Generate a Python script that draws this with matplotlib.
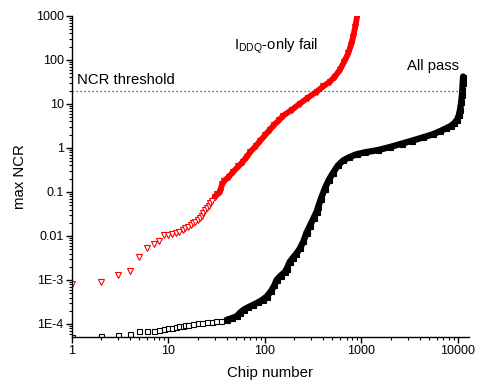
import numpy as np
import matplotlib
matplotlib.use("Agg")
import matplotlib.pyplot as plt
from matplotlib.ticker import FixedLocator, FixedFormatter, LogLocator, NullFormatter

plt.rcParams['font.family'] = ['Liberation Sans', 'DejaVu Sans']
plt.rcParams['mathtext.fontset'] = 'custom'
plt.rcParams['mathtext.rm'] = 'Liberation Sans'
plt.rcParams['mathtext.it'] = 'Liberation Sans:italic'

# IDDQ-only fail chips, sorted by max NCR
fail_chip = [1, 2, 3, 4, 5, 6, 7, 8, 9, 10, 11, 12, 13, 14, 15, 16, 17, 18, 19,
             20, 21, 22, 23, 24, 25, 26, 27, 28, 30, 32, 34, 36, 38, 42, 47, 53,
             59, 65, 70, 80, 89, 100, 112, 125, 140, 154, 190, 230, 280, 343,
             400, 470, 530, 595, 660, 730, 780, 820, 860, 898]
fail_ncr = [8.2e-4, 9.2e-4, 1.3e-3, 1.6e-3, 3.3e-3, 5.4e-3, 6.5e-3, 7.8e-3,
            0.0104, 0.0106, 0.011, 0.0115, 0.0125, 0.0135, 0.015, 0.016, 0.018,
            0.020, 0.021, 0.023, 0.026, 0.029, 0.033, 0.038, 0.043, 0.048,
            0.055, 0.064, 0.075, 0.088, 0.10, 0.15, 0.18, 0.22, 0.29, 0.38,
            0.49, 0.64, 0.80, 1.1, 1.45, 1.95, 2.6, 3.4, 4.3, 5.4, 7.4, 10.2,
            14, 19, 25, 32, 42, 59, 90, 142, 220, 340, 550, 950]

# chips passing every test
pass_chip = [1, 2, 3, 4, 5, 6, 7, 8, 9, 10, 11, 12, 13, 14, 15, 16, 18, 20, 22,
             25, 28, 31, 35, 40, 45, 51, 55, 60, 67, 75, 85, 95, 104, 115, 125,
             132, 145, 160, 168, 181, 195, 212, 230, 250, 270, 292, 320, 344,
             356, 380, 417, 460, 506, 570, 646, 750, 890, 1100, 1500, 1970,
             2600, 3300, 4370, 5500, 6500, 7550, 8500, 9200, 9800, 10200,
             10500, 10800, 11000, 11100, 11200, 11300]
pass_ncr = [5.0e-5, 5.4e-5, 5.6e-5, 5.9e-5, 6.9e-5, 7.0e-5, 7.1e-5, 7.3e-5,
            7.5e-5, 8.0e-5, 8.3e-5, 8.5e-5, 8.8e-5, 9.0e-5, 9.3e-5, 9.5e-5,
            9.8e-5, 1.03e-4, 1.07e-4, 1.1e-4, 1.12e-4, 1.14e-4, 1.18e-4,
            1.24e-4, 1.35e-4, 1.5e-4, 1.8e-4, 2.1e-4, 2.4e-4, 2.7e-4, 3.1e-4,
            3.6e-4, 4.2e-4, 5.5e-4, 7.5e-4, 1.0e-3, 1.25e-3, 1.5e-3, 1.8e-3,
            2.6e-3, 3.2e-3, 4.0e-3, 5.2e-3, 7.5e-3, 0.012, 0.017, 0.026, 0.036,
            0.046, 0.07, 0.12, 0.19, 0.27, 0.40, 0.52, 0.62, 0.72, 0.80, 0.90,
            1.05, 1.25, 1.45, 1.75, 2.05, 2.4, 2.8, 3.2, 3.7, 4.4, 5.5, 7.3, 11,
            16, 21, 30, 42]

threshold = 20
ytick_vals = [1e-4, 1e-3, 1e-2, 1e-1, 1, 10, 100, 1000]
ytick_labels = ['1E-4', '1E-3', '0.01', '0.1', '1', '10', '100', '1000']
xtick_vals = [1, 10, 100, 1000, 10000]
xtick_labels = ['1', '10', '100', '1000', '10000']

fail_chip = np.array(fail_chip)
fail_ncr = np.array(fail_ncr)
pass_chip = np.array(pass_chip)
pass_ncr = np.array(pass_ncr)

fig = plt.figure(figsize=(4.78, 3.86), dpi=100)
ax = fig.add_axes([0.1506, 0.127, 0.8305, 0.8316])

# sparse chips show as separate open markers, the rest overlap into a band
dense_f = fail_chip >= 30
dense_p = pass_chip >= 40

ax.plot(fail_chip[dense_f], fail_ncr[dense_f], 'v-', color='red', lw=4.2,
        ms=4.6, mew=0.8, solid_capstyle='round')
ax.plot(pass_chip[dense_p], pass_ncr[dense_p], 's-', color='black', lw=4.6,
        ms=3.6, mew=0.8, solid_capstyle='round')

ax.plot(fail_chip[~dense_f], fail_ncr[~dense_f], 'v', ms=4.6, mfc='white',
        mec='red', mew=0.8, linestyle='none')
ax.plot(pass_chip[~dense_p], pass_ncr[~dense_p], 's', ms=3.6, mfc='white',
        mec='black', mew=0.8, linestyle='none')

ax.hlines(threshold, 1, 11800, colors='#333333', linestyles=(0, (1, 2.2)),
          lw=0.9)

ax.set_xscale('log')
ax.set_yscale('log')
ax.set_xlim(1, 13000)
ax.set_ylim(5.07e-5, 1000)

ax.yaxis.set_major_locator(FixedLocator(ytick_vals))
ax.yaxis.set_major_formatter(FixedFormatter(ytick_labels))
ax.yaxis.set_minor_locator(LogLocator(base=10, subs=np.arange(2, 10), numticks=20))
ax.yaxis.set_minor_formatter(NullFormatter())
ax.xaxis.set_major_locator(FixedLocator(xtick_vals))
ax.xaxis.set_major_formatter(FixedFormatter(xtick_labels))
ax.xaxis.set_minor_locator(LogLocator(base=10, subs=np.arange(2, 10), numticks=20))
ax.xaxis.set_minor_formatter(NullFormatter())

for s in ['top', 'right']:
    ax.spines[s].set_visible(False)
for s in ['left', 'bottom']:
    ax.spines[s].set_linewidth(1.0)
ax.tick_params(which='major', direction='out', length=4, width=1.0,
               labelsize=9, pad=2)
ax.tick_params(which='minor', direction='out', length=2.2, width=0.8)

ax.set_xlabel('Chip number', fontsize=10.8, labelpad=6)
ax.set_ylabel('max NCR', fontsize=10.8, labelpad=6)

ax.text(1.13, 28.5, 'NCR threshold', fontsize=10.7, va='baseline', ha='left')
ax.text(2940, 59, 'All pass', fontsize=10.7, va='baseline', ha='left')
ax.text(47.7, 169, r'$\mathrm{I_{DDQ}}$-only fail', fontsize=10.7,
        va='baseline', ha='left')

fig.savefig('out.png', dpi=100)
